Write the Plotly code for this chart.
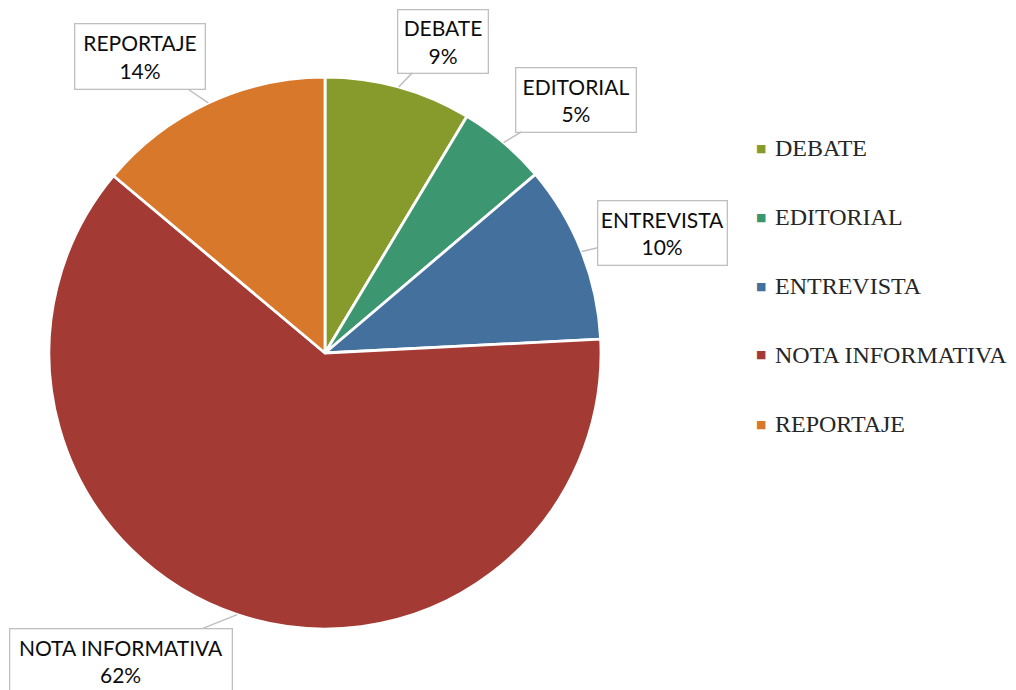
import math
import plotly.graph_objects as go

# ---- data ----
categories = ["DEBATE", "EDITORIAL", "ENTREVISTA", "NOTA INFORMATIVA", "REPORTAJE"]
values = [8.6, 5.2, 10.4, 61.9, 13.9]
colors = ["#879B2C", "#3C9670", "#43709D", "#A43A34", "#D8782A"]

# ---- layout parameters ----
W, H = 1016, 690
OFF = 8  # page body margin
CX, CY, R = 325 - OFF, 353 - OFF, 276
# callout box: (offset x, offset y from slice edge point to box centre, box width, box height)
callouts = [
    (44, -46, 92, 65),
    (72, -43, 122, 66),
    (81, -18, 131, 66),
    (-116, 46, 224, 66),
    (-68, -46, 132, 67),
]
legend_x_marker, legend_x_text = 761 - OFF, 773 - OFF
legend_y0, legend_dy = 148 - OFF, 69

fig = go.Figure()
fig.add_trace(go.Pie(
    labels=categories,
    values=values,
    sort=False,
    direction="clockwise",
    rotation=0,
    marker=dict(colors=colors, line=dict(color="white", width=2.8)),
    textinfo="none",
    hoverinfo="label+percent",
    showlegend=False,
    domain=dict(x=[(CX - R) / W, (CX + R) / W],
                y=[(H - CY - R) / H, (H - CY + R) / H]),
))

annotations = []
total = sum(values)
cum = 0.0
for cat, v, (ox, oy, bw, bh) in zip(categories, values, callouts):
    mid = (cum + v / 2) / total * 2 * math.pi
    cum += v
    tx = CX + R * math.sin(mid)
    ty = CY - R * math.cos(mid)
    pct = round(v / total * 100)
    annotations.append(dict(
        x=tx / W, y=1 - ty / H, xref="paper", yref="paper",
        text=f"{cat}<br>{pct}%",
        showarrow=True, arrowhead=0, arrowwidth=1.5, arrowcolor="#BFBFBF",
        ax=ox, ay=oy,
        bgcolor="white", bordercolor="#BFBFBF", borderwidth=1.3, borderpad=2,
        width=bw - 6.6, height=bh - 6.6,
        align="center", valign="middle",
        font=dict(family="Lato, sans-serif", size=21, color="#0D0D0D"),
    ))

for i, (cat, col) in enumerate(zip(categories, colors)):
    yy = legend_y0 + i * legend_dy
    annotations.append(dict(
        x=legend_x_marker / W, y=1 - yy / H, xref="paper", yref="paper",
        text=f"<span style='color:{col}'>■</span>",
        showarrow=False, xanchor="center", yanchor="middle",
        font=dict(family="DejaVu Sans", size=11, color=col),
    ))
    annotations.append(dict(
        x=legend_x_text / W, y=1 - yy / H, xref="paper", yref="paper",
        text=cat, showarrow=False, xanchor="left", yanchor="middle",
        font=dict(family="Liberation Serif, serif", size=24, color="#262626"),
    ))

fig.update_layout(
    width=W, height=H,
    margin=dict(l=0, r=0, t=0, b=0),
    paper_bgcolor="white", plot_bgcolor="white",
    annotations=annotations,
    showlegend=False,
)

fig.write_html("out.html")
